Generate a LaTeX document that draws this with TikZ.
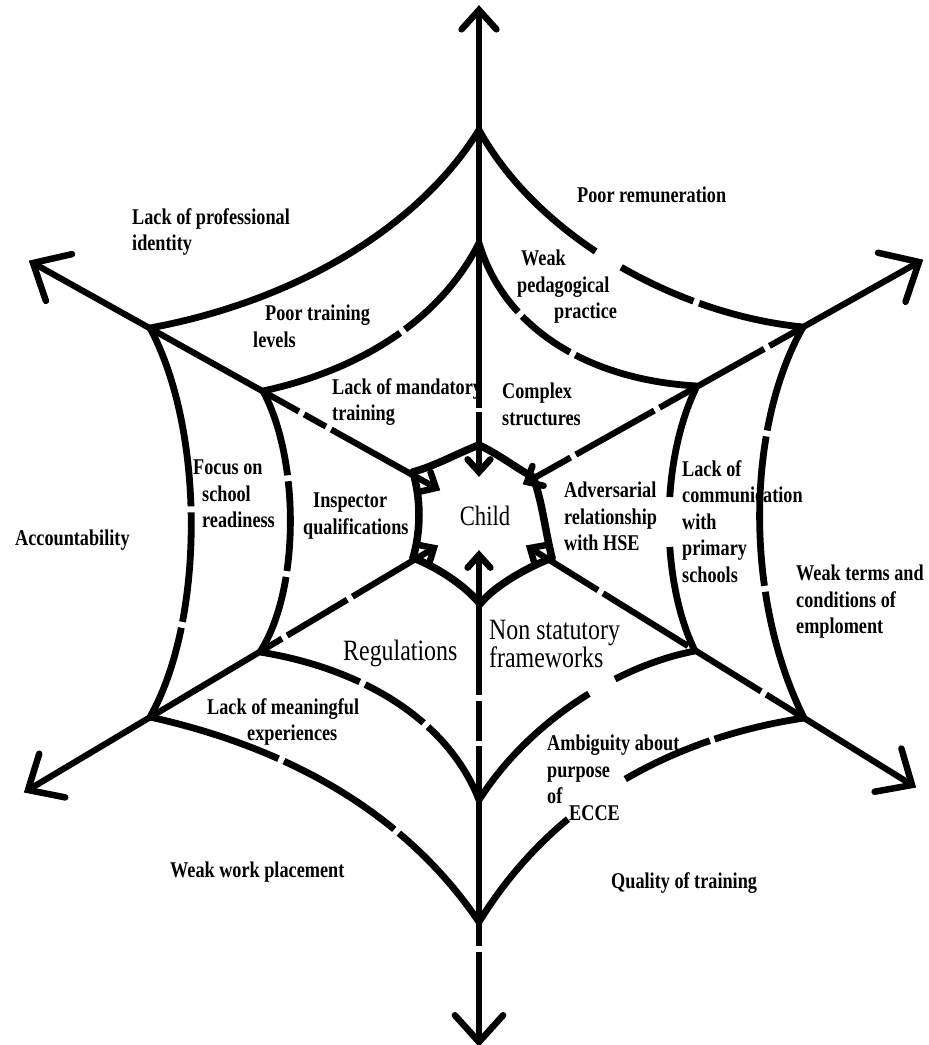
\documentclass[tikz,border=0pt]{standalone}
\usepackage{fontspec}
\setmainfont{Liberation Serif}[FakeStretch=0.81]
\usetikzlibrary{calc}
\tikzset{
  webline/.style={line width=6.8pt, line cap=butt, line join=round},
  gappy/.style={dash pattern=on 85pt off 6pt on 60pt off 6pt on 120pt off 6pt},
  spokeline/.style={line width=6.2pt, line cap=butt},
  innerweb/.style={line width=7.5pt, line cap=round, line join=round},
  barb/.style={line width=6.5pt, line cap=round, line join=miter},
  lbl/.style={font=\bfseries\fontsize{22.5}{26.5}\selectfont, align=left, anchor=north west, inner sep=0pt},
  big/.style={font=\fontsize{29.5}{28}\selectfont, align=left, anchor=north west, inner sep=0pt},
}
\newcommand\barbhead[3]{\draw[barb] ($(#1)!#3!42:(#2)$) -- (#1) -- ($(#1)!#3!-42:(#2)$);}
\begin{document}
\begin{tikzpicture}[x=1pt,y=-1pt]
\fill[white] (0,0) rectangle (929,1045);
\useasboundingbox (0,0) rectangle (929,1045);
% spoke tips
\coordinate (Ttip) at (479,10);
\coordinate (Btip) at (479,1042);
\coordinate (ULtip) at (33,263);
\coordinate (URtip) at (919,262);
\coordinate (LLtip) at (28,790);
\coordinate (LRtip) at (912,785);
% inner tips
\coordinate (Tin) at (479,472);
\coordinate (Bin) at (479,555);
\coordinate (ULin) at (436,488);
\coordinate (URin) at (527,482);
\coordinate (LLin) at (434,548);
\coordinate (LRin) at (530,548);
% outer ring
\coordinate (O1) at (479,130);
\coordinate (O2) at (803,327);
\coordinate (O3) at (804,718);
\coordinate (O4) at (479,922);
\coordinate (O5) at (150,717);
\coordinate (O6) at (150,328);
% middle ring
\coordinate (M1) at (479,243);
\coordinate (M2) at (697,386);
\coordinate (M3) at (695,651);
\coordinate (M4) at (479,800);
\coordinate (M5) at (260,652);
\coordinate (M6) at (263,391);
% inner ring
\coordinate (I1) at (479,445);
\coordinate (I2) at (533,477);
\coordinate (I3) at (552,558);
\coordinate (I4) at (480,604);
\coordinate (I5) at (413,558);
\coordinate (I6) at (413,472);

% spokes
\draw[spokeline,dash pattern=on 60pt off 4pt on 400pt] (Tin) -- (Ttip);
\draw[spokeline,dash pattern=on 140pt off 6pt on 40pt off 5pt on 200pt off 6pt on 200pt] (Bin) -- (Btip);
\draw[spokeline,dash pattern=on 120pt off 6pt on 25pt off 6pt on 400pt] (ULin) -- (ULtip);
\draw[spokeline,dash pattern=on 50pt off 6pt on 90pt off 6pt on 120pt off 6pt on 300pt] (URin) -- (URtip);
\draw[spokeline,dash pattern=on 95pt off 6pt on 70pt off 6pt on 300pt] (LLin) -- (LLtip);
\draw[spokeline,dash pattern=on 80pt off 6pt on 100pt off 6pt on 80pt off 6pt on 300pt] (LRin) -- (LRtip);

% outer ring
\draw[webline] (O6) .. controls (300,300) and (420,225) .. (O1);
\draw[webline,dash pattern=on 170pt off 30pt on 80pt off 6pt on 200pt] (O1) .. controls (540,240) and (680,315) .. (O2);
\draw[webline,dash pattern=on 110pt off 6pt on 150pt off 6pt on 300pt] (O2) .. controls (745,430) and (745,600) .. (O3);
\draw[webline,dash pattern=on 92pt off 5pt on 93pt off 70pt on 400pt] (O3) .. controls (690,735) and (560,790) .. (O4);
\draw[webline,dash pattern=on 120pt off 6pt on 130pt off 6pt on 300pt] (O4) .. controls (420,835) and (320,755) .. (O5);
\draw[webline,dash pattern=on 95pt off 6pt on 110pt off 6pt on 300pt] (O5) .. controls (205,620) and (205,430) .. (O6);

% middle ring
\draw[webline,dash pattern=on 150pt off 6pt on 300pt] (M6) .. controls (360,370) and (440,320) .. (M1);
\draw[webline,dash pattern=on 80pt off 6pt on 60pt off 6pt on 300pt] (M1) .. controls (505,330) and (590,380) .. (M2);
\draw[webline,dash pattern=on 115pt off 50pt on 200pt] (M2) .. controls (660,460) and (660,580) .. (M3);
\draw[webline,dash pattern=on 85pt off 30pt on 300pt] (M3) .. controls (620,665) and (530,720) .. (M4);
\draw[webline,dash pattern=on 90pt off 6pt on 70pt off 6pt on 300pt] (M4) .. controls (450,725) and (370,670) .. (M5);
\draw[webline,dash pattern=on 80pt off 6pt on 90pt off 6pt on 300pt] (M5) .. controls (300,590) and (300,460) .. (M6);

% inner ring
\draw[innerweb] (I6) .. controls (435,466) and (458,453) .. (I1);
\draw[innerweb] (I1) .. controls (500,455) and (516,468) .. (I2);
\draw[innerweb] (I2) .. controls (542,500) and (545,530) .. (I3);
\draw[innerweb] (I3) .. controls (530,566) and (495,585) .. (I4);
\draw[innerweb] (I4) .. controls (465,585) and (435,566) .. (I5);
\draw[innerweb] (I5) .. controls (421,530) and (421,500) .. (I6);

% outer arrowheads
\barbhead{Ttip}{Tin}{26pt}
\barbhead{Btip}{Bin}{36pt}
\barbhead{ULtip}{ULin}{40pt}
\barbhead{URtip}{URin}{42pt}
\barbhead{LLtip}{LLin}{38pt}
\barbhead{LRtip}{LRin}{38pt}
% inner arrowheads
\barbhead{Tin}{Ttip}{17pt}
\barbhead{Bin}{Btip}{17pt}
\barbhead{ULin}{ULtip}{17pt}
\barbhead{URin}{URtip}{17pt}
\barbhead{LLin}{LLtip}{17pt}
\barbhead{LRin}{LRtip}{17pt}

% labels
\node[lbl] (poorrem) at (577,187) {Poor remuneration};
\node[lbl] (profid) at (132,208) {Lack of professional\\identity};
\node[lbl] (pedag) at (517,250) {\hspace*{4pt}Weak\\pedagogical\\\hspace*{37pt}practice};
\node[lbl] (poortr) at (253,305) {\hspace*{12pt}Poor training\\levels};
\node[lbl] (mand) at (332,378) {Lack of mandatory\\training};
\node[lbl] (complex) at (502,383) {Complex\\structures};
\node[lbl] (focus) at (193,460) {Focus on\\\hspace*{9pt}school\\\hspace*{9pt}readiness};
\node[lbl] (insp) at (303,493) {\hspace*{10pt}Inspector\\qualifications};
\node[lbl] (acc) at (15,530) {Accountability};
\node[lbl] (adv) at (564,482) {Adversarial\\relationship\\with HSE};
\node[lbl] (comm) at (682,460) {Lack of\\communication\\with\\primary\\schools};
\node[lbl] (terms) at (796,565) {Weak terms and\\conditions of\\emploment};
\node[big] (regs) at (343,640) {Regulations};
\node[big] (nonstat) at (489,620) {Non statutory\\frameworks};
\node[lbl] (meaning) at (207,698) {Lack of meaningful\\\hspace*{40pt}experiences};
\node[lbl] (ambig) at (547,735) {Ambiguity about\\purpose\\of};
\node[lbl] (ecce) at (569,805) {ECCE};
\node[lbl] (place) at (170,862) {Weak work placement};
\node[lbl] (qual) at (611,872) {Quality of training};
\node[font=\fontsize{28}{28}\selectfont, inner sep=0pt] (child) at (485,516) {Child};
\end{tikzpicture}
\end{document}
